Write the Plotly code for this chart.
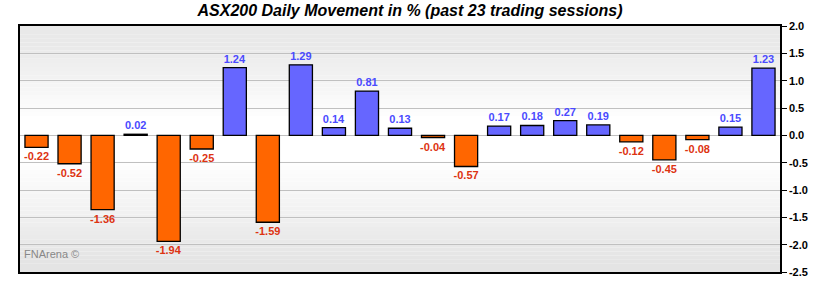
import plotly.graph_objects as go

values = [-0.22, -0.52, -1.36, 0.02, -1.94, -0.25, 1.24, -1.59, 1.29, 0.14, 0.81, 0.13,
          -0.04, -0.57, 0.17, 0.18, 0.27, 0.19, -0.12, -0.45, -0.08, 0.15, 1.23]
sessions = list(range(1, len(values) + 1))
title = "ASX200 Daily Movement in % (past 23 trading sessions)"
tick_vals = [2.0, 1.5, 1.0, 0.5, 0.0, -0.5, -1.0, -1.5, -2.0, -2.5]

UP, DOWN = "#6666ff", "#ff6600"
UP_TXT, DOWN_TXT = "#4a4aff", "#dd3311"

bar_colors = [UP if v >= 0 else DOWN for v in values]
txt_colors = [UP_TXT if v >= 0 else DOWN_TXT for v in values]

fig = go.Figure(go.Bar(
    x=sessions, y=values,
    marker=dict(color=bar_colors, line=dict(color="black", width=1.3)),
    text=[f"<b>{v:.2f}</b>" for v in values],
    textposition="outside",
    constraintext="none",
    textfont=dict(color=txt_colors, size=11, family="Liberation Sans"),
    cliponaxis=False,
    hoverinfo="x+y",
))

# background gradient (grey at top/bottom, white in the middle)
shapes = []
N = 60
def shade(t):
    if t > 0.62:
        f = min(1.0, (t - 0.62) / 0.30)
        g = 255 - 22 * f
    elif t < 0.45:
        f = min(1.0, (0.45 - t) / 0.40)
        g = 255 - 27 * f
    else:
        g = 255
    g = int(round(g))
    return f"rgb({g},{g},{g})"
for i in range(N):
    y0 = i / N
    y1 = (i + 1) / N
    shapes.append(dict(type="rect", xref="paper", yref="paper", x0=0, x1=1, y0=y0, y1=y1,
                       fillcolor=shade((y0 + y1) / 2), line=dict(width=0), layer="below"))

fig.update_layout(
    width=820, height=290,
    margin=dict(l=20, r=40, t=26, b=14),
    paper_bgcolor="white", plot_bgcolor="rgba(0,0,0,0)",
    shapes=shapes,
    bargap=0.3,
    showlegend=False,
    font=dict(family="Liberation Sans", color="black"),
    title=dict(text=f"<b><i>{title}</i></b>", x=0.5, xanchor="center", y=0.985, yanchor="top",
               font=dict(size=16, family="Liberation Sans", color="black")),
    annotations=[dict(text="FNArena ©", xref="paper", yref="paper", x=0.003, y=0.04,
                      xanchor="left", yanchor="bottom", showarrow=False,
                      font=dict(size=11, color="#888888", family="Liberation Sans"))],
)
fig.update_xaxes(range=[0.5, len(values) + 0.5], showticklabels=False, ticks="",
                 showgrid=False, zeroline=False, showline=True, linecolor="black",
                 linewidth=1.5, mirror=True)
fig.update_yaxes(side="right", range=[-2.5, 2.0], tickvals=tick_vals,
                 ticktext=[f"<b>{t:.1f}</b>" for t in tick_vals],
                 ticks="outside", ticklen=5, tickcolor="black", tickwidth=1,
                 tickfont=dict(size=11, family="Liberation Sans", color="black"),
                 showgrid=True, gridcolor="#c0c0c0", gridwidth=1,
                 zeroline=False, showline=True, linecolor="black", linewidth=1.5, mirror=True)

fig.write_html("out.html")
